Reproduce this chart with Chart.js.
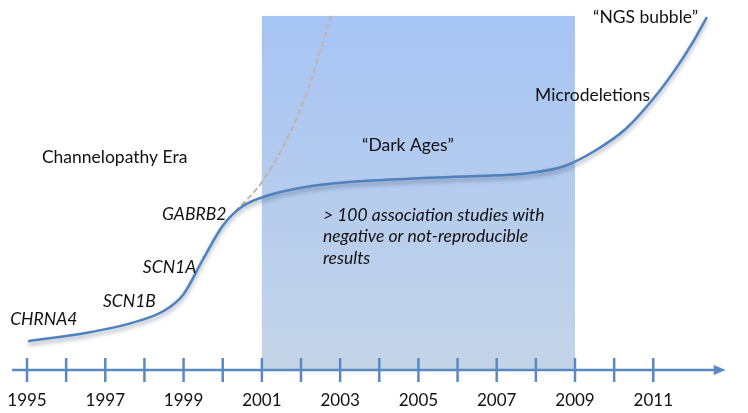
<!DOCTYPE html>
<html>
<head>
<meta charset="utf-8">
<script src="https://cdn.jsdelivr.net/npm/chart.js@4/dist/chart.umd.min.js"></script>
<style>
  html, body { margin: 0; padding: 0; background: #fff; }
  #wrap { width: 748px; height: 413px; }
</style>
</head>
<body>
<div id="wrap"><canvas id="chartTimeline" width="748" height="413"></canvas></div>
<script>
// timeline of epilepsy genetics — discovery level in arbitrary units (0-100)
const CURVE_YEARS = [1995.03, 1996.5, 1997.7, 1998.5, 1999.0, 1999.5, 2000.0, 2000.5,
  2001.2, 2002.2, 2003.5, 2005.0, 2006.5, 2007.8, 2008.7, 2009.5, 2010.3,
  2011.0, 2011.6, 2012.0, 2012.37];
const CURVE_LEVELS = [7.8, 10.0, 12.8, 16.0, 20.5, 30.0, 39.0, 44.2,
  47.3, 49.6, 51.0, 51.8, 52.4, 53.2, 55.0, 59.2, 65.2,
  73.3, 81.8, 88.4, 95.4];

// expected trend if the channelopathy pace had continued
const TREND_YEARS = [2000.31, 2001.0, 2001.72, 2002.15, 2002.48, 2002.77];
const TREND_LEVELS = [42.7, 50.8, 64.1, 75.1, 85.9, 95.7];

const TIMELINE_YEARS = [1995, 1996, 1997, 1998, 1999, 2000, 2001, 2002, 2003, 2004,
  2005, 2006, 2007, 2008, 2009, 2010, 2011];
const TIMELINE_LABELS = ['1995', '1997', '1999', '2001', '2003', '2005', '2007', '2009', '2011'];

const DARK_AGES = [2001, 2009];

const ANNOTATIONS = [
  { text: ['CHRNA4'], year: 1994.57, level: 13.8, italic: true },
  { text: ['SCN1B'], year: 1996.94, level: 18.6, italic: true },
  { text: ['SCN1A'], year: 1997.96, level: 27.8, italic: true },
  { text: ['GABRB2'], year: 1998.45, level: 42.2, italic: true },
  { text: ['Channelopathy Era'], year: 1995.38, level: 57.6 },
  { text: ['\u201CDark Ages\u201D'], year: 2003.56, level: 60.8 },
  { text: ['> 100 association studies with', 'negative or not-reproducible', 'results'], year: 2002.56, level: 41.9, italic: true },
  { text: ['Microdeletions'], year: 2007.98, level: 74.3 },
  { text: ['\u201CNGS bubble\u201D'], year: 2009.46, level: 95.4 }
];

const COLORS = {
  curve: '#4f81bd',
  axis: '#5a89c2',
  trend: '#c2b4ab',
  shadeTop: '#a6c4f4',
  shadeBottom: '#c4d4e7',
  text: '#111'
};
const FONT = 'Lato, "Open Sans", sans-serif';

const darkAgesPlugin = {
  id: 'darkAges',
  beforeDatasetsDraw(chart) {
    const { ctx, scales: { x, y } } = chart;
    const left = x.getPixelForValue(DARK_AGES[0]);
    const right = x.getPixelForValue(DARK_AGES[1]);
    const top = y.getPixelForValue(95.7);
    const bottom = y.getPixelForValue(0);
    const grad = ctx.createLinearGradient(0, top, 0, bottom);
    grad.addColorStop(0, COLORS.shadeTop);
    grad.addColorStop(1, COLORS.shadeBottom);
    ctx.save();
    ctx.fillStyle = grad;
    ctx.fillRect(left, top, right - left, bottom - top);
    ctx.restore();
  }
};

const shadowPlugin = {
  id: 'curveShadow',
  beforeDatasetDraw(chart, args) {
    if (args.index !== 0) return;
    const ctx = chart.ctx;
    ctx.save();
    ctx.shadowColor = 'rgba(40,60,90,0.45)';
    ctx.shadowBlur = 4;
    ctx.shadowOffsetY = 3;
  },
  afterDatasetDraw(chart, args) {
    if (args.index !== 0) return;
    chart.ctx.restore();
  }
};

const timelinePlugin = {
  id: 'timeline',
  afterDraw(chart) {
    const { ctx, scales: { x, y } } = chart;
    const axisY = y.getPixelForValue(0);
    const start = x.getPixelForValue(1994.62);
    const tip = x.getPixelForValue(2012.85);
    ctx.save();
    ctx.strokeStyle = COLORS.axis;
    ctx.fillStyle = COLORS.axis;
    ctx.lineWidth = 2.5;
    ctx.beginPath();
    ctx.moveTo(start, axisY);
    ctx.lineTo(tip - 8, axisY);
    ctx.stroke();
    ctx.beginPath();
    ctx.moveTo(tip, axisY);
    ctx.lineTo(tip - 12, axisY - 5);
    ctx.lineTo(tip - 12, axisY + 5);
    ctx.closePath();
    ctx.fill();
    TIMELINE_YEARS.forEach(yr => {
      const px = x.getPixelForValue(yr);
      ctx.beginPath();
      ctx.moveTo(px, axisY - 12);
      ctx.lineTo(px, axisY + 12);
      ctx.stroke();
    });
    ctx.fillStyle = COLORS.text;
    ctx.font = '17px ' + FONT;
    ctx.textAlign = 'center';
    ctx.textBaseline = 'middle';
    TIMELINE_LABELS.forEach(lbl => {
      ctx.fillText(lbl, x.getPixelForValue(Number(lbl)), axisY + 31);
    });
    ctx.restore();
  }
};

const notesPlugin = {
  id: 'notes',
  afterDatasetsDraw(chart) {
    const { ctx, scales: { x, y } } = chart;
    ctx.save();
    ctx.fillStyle = COLORS.text;
    ctx.textAlign = 'left';
    ctx.textBaseline = 'middle';
    ANNOTATIONS.forEach(a => {
      ctx.font = (a.italic ? 'italic 17.5px ' : '17.5px ') + FONT;
      const px = x.getPixelForValue(a.year);
      const py = y.getPixelForValue(a.level);
      a.text.forEach((line, i) => ctx.fillText(line, px, py + i * 21.5));
    });
    ctx.restore();
  }
};

new Chart(document.getElementById('chartTimeline'), {
  type: 'line',
  data: {
    datasets: [
      {
        label: 'Discoveries',
        data: CURVE_YEARS.map((yr, i) => ({ x: yr, y: CURVE_LEVELS[i] })),
        borderColor: COLORS.curve,
        borderWidth: 2.5,
        pointRadius: 0,
        fill: false,
        cubicInterpolationMode: 'monotone'
      },
      {
        label: 'Expected',
        data: TREND_YEARS.map((yr, i) => ({ x: yr, y: TREND_LEVELS[i] })),
        borderColor: COLORS.trend,
        borderWidth: 2,
        borderDash: [6, 3],
        pointRadius: 0,
        fill: false,
        tension: 0.4
      }
    ]
  },
  options: {
    responsive: false,
    animation: false,
    layout: { padding: { top: 0, left: 0, right: 0, bottom: 43 } },
    plugins: { legend: { display: false }, tooltip: { enabled: false } },
    scales: {
      x: { type: 'linear', display: false, min: 1994.31, max: 2013.42 },
      y: { type: 'linear', display: false, min: 0, max: 100 }
    }
  },
  plugins: [darkAgesPlugin, shadowPlugin, notesPlugin, timelinePlugin]
});
</script>
</body>
</html>
